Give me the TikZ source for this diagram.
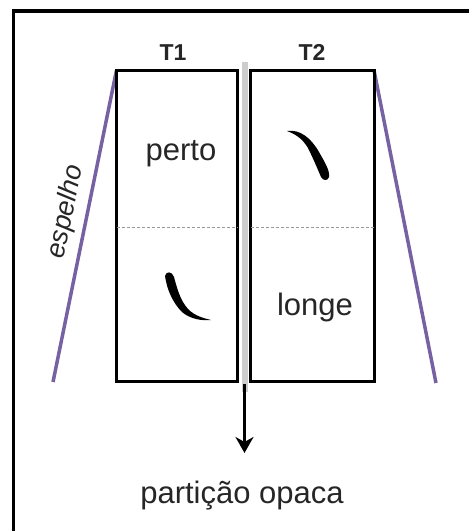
\documentclass[tikz,border=0pt]{standalone}
\usepackage{fontspec}
\setmainfont{Liberation Sans}
\usetikzlibrary{arrows.meta}
\definecolor{espelhocor}{RGB}{118,98,162}
\definecolor{particaocor}{RGB}{205,205,205}
\begin{document}
\begin{tikzpicture}[
    x=1pt, y=-1pt,
    tanque/.style={rectangle, draw, line width=3pt, minimum width=121pt, minimum height=311.5pt, inner sep=0pt, outer sep=0pt},
    rotulo/.style={font=\fontsize{31}{36}\selectfont, text=black!85},
    titulo/.style={font=\bfseries\fontsize{23}{26}\selectfont, text=black!85},
    espelho/.style={draw=espelhocor, line width=3.5pt},
    tracejado/.style={draw=black!40, line width=1pt, dash pattern=on 3pt off 2pt},
    peixe/.style={fill=black}
]
    \useasboundingbox (0,0) rectangle (469,531);

    % Moldura
    \draw[line width=3.5pt] (13.5,11) rectangle (495,560);

    % Particao opaca
    \draw[particaocor, line width=6pt] (244.5,62) -- (244.5,392);

    % Espelhos
    \coordinate (pe1) at (53,382);
    \coordinate (pe2) at (436,383);
    \draw[espelho] (116.5,70.25) -- (pe1);
    \draw[espelho] (374,70.25) -- (pe2);
    \node[font=\itshape\fontsize{27}{30}\selectfont, text=black!85, rotate=78.6] (esp) at (66,212) {espelho};

    % Tanques
    \node[tanque] (t1) at (177,226) {};
    \node[tanque, minimum width=123.5pt] (t2) at (312.25,226) {};
    \node[titulo, anchor=base] (rt1) at (173,60) {T1};
    \node[titulo, anchor=base] (rt2) at (312,60) {T2};

    % Linha do meio
    \draw[tracejado] (t1.west |- 0,227) -- (t1.east |- 0,227);
    \draw[tracejado] (t2.west |- 0,227) -- (t2.east |- 0,227);

    \node[rotulo, anchor=base] (perto) at (181,160) {perto};
    \node[rotulo, anchor=base] (longe) at (315,315) {longe};

    % Peixes
    \fill[peixe] (287,131) .. controls (300,129) and (311,138) .. (319,152)
        .. controls (324,161) and (330,170) .. (329,177)
        .. controls (328,181) and (323,181) .. (321,177)
        .. controls (318,170) and (313,158) .. (308,148)
        .. controls (302,138) and (295,134) .. (287,131) -- cycle;
    \fill[peixe] (165,276) .. controls (166,271) and (172,271) .. (174,277)
        .. controls (177,288) and (180,300) .. (188,309)
        .. controls (195,316) and (203,318) .. (211,320)
        .. controls (202,321) and (190,319) .. (182,312)
        .. controls (173,303) and (167,290) .. (165,276) -- cycle;

    % Seta
    \coordinate (base) at (244.5,384);
    \coordinate (ponta) at (244.5,453);
    \draw[line width=2.5pt, -{Stealth[length=16pt, width=18pt, inset=5pt]}] (base) -- (ponta);
    \node[rotulo, anchor=base] (opaca) at (242,503) {partição opaca};
\end{tikzpicture}
\end{document}
